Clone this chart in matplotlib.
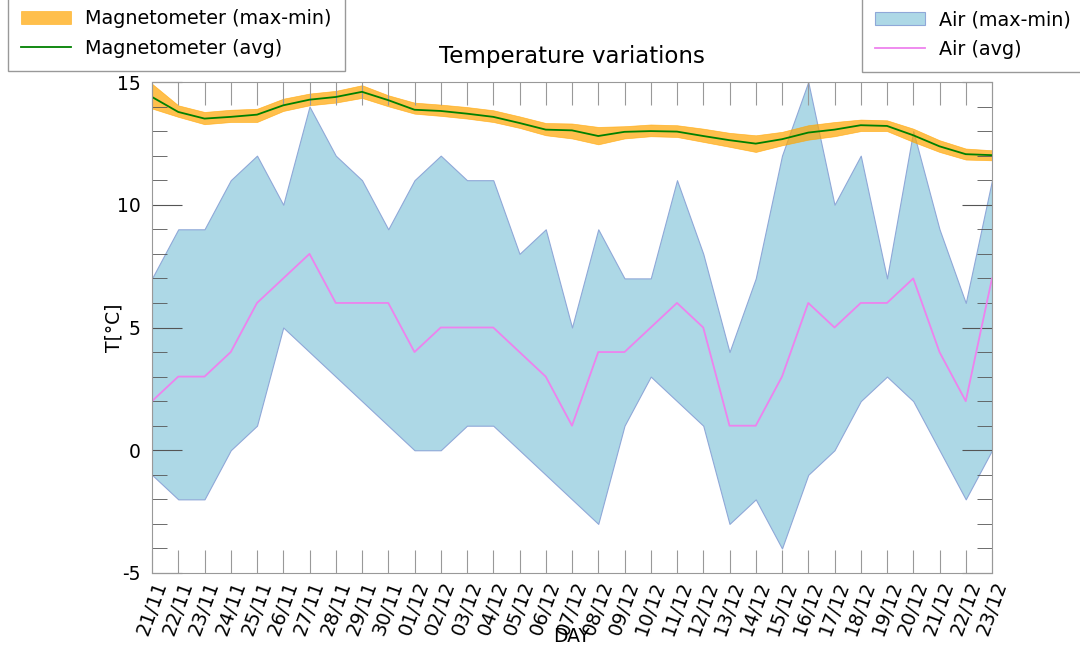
import matplotlib
matplotlib.use("Agg")
import matplotlib.pyplot as plt
from matplotlib.ticker import MultipleLocator

plt.rcParams["axes.unicode_minus"] = False

# -------- DATA --------
days = ["21/11", "22/11", "23/11", "24/11", "25/11", "26/11", "27/11", "28/11",
        "29/11", "30/11", "01/12", "02/12", "03/12", "04/12", "05/12", "06/12",
        "07/12", "08/12", "09/12", "10/12", "11/12", "12/12", "13/12", "14/12",
        "15/12", "16/12", "17/12", "18/12", "19/12", "20/12", "21/12", "22/12",
        "23/12"]

air_max = [7, 9, 9, 11, 12, 10, 14, 12, 11, 9, 11, 12, 11, 11, 8, 9,
           5, 9, 7, 7, 11, 8, 4, 7, 12, 15, 10, 12, 7, 13, 9, 6, 11]
air_min = [-1, -2, -2, 0, 1, 5, 4, 3, 2, 1, 0, 0, 1, 1, 0, -1,
           -2, -3, 1, 3, 2, 1, -3, -2, -4, -1, 0, 2, 3, 2, 0, -2, 0]
air_avg = [2, 3, 3, 4, 6, 7, 8, 6, 6, 6, 4, 5, 5, 5, 4, 3,
           1, 4, 4, 5, 6, 5, 1, 1, 3, 6, 5, 6, 6, 7, 4, 2, 7]

mag_max = [14.93, 14.05, 13.78, 13.87, 13.91, 14.32, 14.53, 14.64, 14.87, 14.46,
           14.16, 14.08, 13.98, 13.85, 13.60, 13.33, 13.31, 13.17, 13.20, 13.27,
           13.24, 13.10, 12.93, 12.83, 12.97, 13.24, 13.37, 13.47, 13.44, 13.10,
           12.63, 12.29, 12.22]
mag_min = [13.92, 13.58, 13.28, 13.37, 13.37, 13.82, 14.05, 14.16, 14.35, 14.01,
           13.71, 13.62, 13.51, 13.37, 13.13, 12.83, 12.70, 12.46, 12.70, 12.79,
           12.76, 12.56, 12.36, 12.15, 12.42, 12.65, 12.79, 13.00, 13.00, 12.56,
           12.15, 11.84, 11.81]
mag_avg = [14.39, 13.78, 13.51, 13.58, 13.67, 14.05, 14.28, 14.39, 14.60, 14.26,
           13.87, 13.82, 13.71, 13.58, 13.33, 13.06, 13.03, 12.80, 12.97, 13.00,
           12.98, 12.80, 12.63, 12.49, 12.67, 12.94, 13.06, 13.24, 13.21, 12.83,
           12.38, 12.06, 12.02]

x = list(range(len(days)))

# -------- PLOT --------
fig = plt.figure(figsize=(10.8, 6.47), dpi=100)
ax = fig.add_axes([152 / 1080, 1 - 573 / 647, 840 / 1080, 491 / 647])

air_band = ax.fill_between(x, air_min, air_max, facecolor="lightblue",
                           edgecolor="#8fa8d8", linewidth=0.8,
                           label="Air (max-min)")
air_line, = ax.plot(x, air_avg, color="violet", linewidth=1.3, label="Air (avg)")

mag_band = ax.fill_between(x, mag_min, mag_max, color="orange", alpha=0.7,
                           linewidth=0.5, label="Magnetometer (max-min)")
mag_line, = ax.plot(x, mag_avg, color="green", linewidth=1.3,
                    label="Magnetometer (avg)")

ax.set_xlim(0, len(days) - 1)
ax.set_ylim(-5, 15)
ax.set_xticks(x)
ax.set_xticklabels(days, rotation=70, ha="center", fontsize=14)
ax.yaxis.set_major_locator(MultipleLocator(5))
ax.yaxis.set_minor_locator(MultipleLocator(1))
ax.tick_params(axis="y", which="major", direction="in", length=21.5,
               left=True, right=True, labelsize=13.5, color="#555555", pad=8)
ax.tick_params(axis="y", which="minor", direction="in", length=11,
               left=True, right=True, color="#555555")
ax.tick_params(axis="x", which="major", direction="in", length=16.5,
               top=True, bottom=True, color="#999999", pad=4)

for s in ax.spines.values():
    s.set_color("#999999")

ax.set_xlabel("DAY", fontsize=13.5)
ax.set_ylabel("T[°C]", fontsize=13.5)
ax.xaxis.set_label_coords(0.5, -0.11)
ax.yaxis.set_label_coords(-0.0345, 0.5)
ax.set_title("Temperature variations", fontsize=16.5, pad=14)

leg_kw = dict(loc="lower left", fontsize=13.8, fancybox=False,
              edgecolor="#999999", framealpha=1, borderaxespad=0,
              handlelength=2.6, handletextpad=0.7, borderpad=0.7,
              labelspacing=0.55)
fig.legend(handles=[mag_band, mag_line],
           bbox_to_anchor=(8 / 1080, 1 - 71 / 647), **leg_kw)
fig.legend(handles=[air_band, air_line],
           bbox_to_anchor=(862 / 1080, 1 - 72 / 647), **leg_kw)

fig.savefig("out.png", dpi=100)
